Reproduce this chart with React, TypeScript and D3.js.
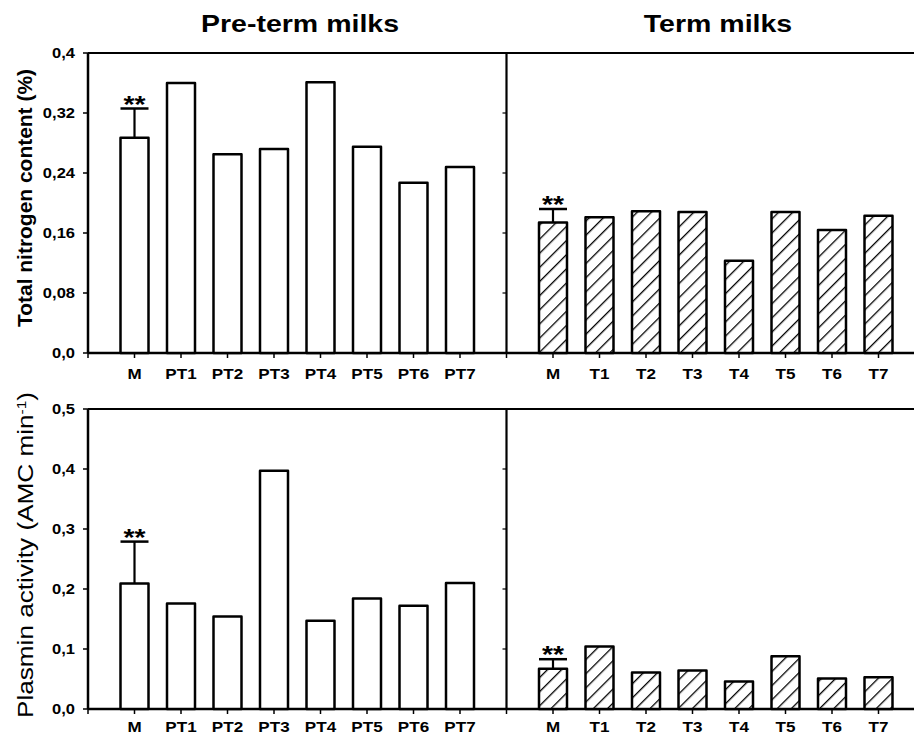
import React from "react";
import * as d3 from "d3";

const preCategories = ["M", "PT1", "PT2", "PT3", "PT4", "PT5", "PT6", "PT7"];
const termCategories = ["M", "T1", "T2", "T3", "T4", "T5", "T6", "T7"];

const nitrogenPre = [0.287, 0.36, 0.265, 0.272, 0.361, 0.275, 0.227, 0.248];
const nitrogenTerm = [0.174, 0.181, 0.189, 0.188, 0.123, 0.188, 0.164, 0.183];
const plasminPre = [0.209, 0.176, 0.154, 0.397, 0.147, 0.184, 0.172, 0.21];
const plasminTerm = [0.067, 0.104, 0.061, 0.064, 0.046, 0.088, 0.051, 0.053];

// error (SD) only on the mean bar "M"
const nitrogenPreErr = 0.039;
const nitrogenTermErr = 0.018;
const plasminPreErr = 0.07;
const plasminTermErr = 0.016;

const nitrogenTicks = [0, 0.08, 0.16, 0.24, 0.32, 0.4];
const nitrogenTickLabels = ["0,0", "0,08", "0,16", "0,24", "0,32", "0,4"];
const plasminTicks = [0, 0.1, 0.2, 0.3, 0.4, 0.5];
const plasminTickLabels = ["0,0", "0,1", "0,2", "0,3", "0,4", "0,5"];

const titles = ["Pre-term milks", "Term milks"];
const FONT = "Liberation Sans, Arial, Helvetica, sans-serif";

const W = 914;
const H = 735;
const X0 = 88;
const XDIV = 506.5;
const STEP = (XDIV - X0) / 9;
const BAR_W = 28;
const SX = 1.18; // horizontal stretch of the original figure's lettering

const xLeft = d3.scaleLinear().domain([0, 9]).range([X0, XDIV]);
const xRight = d3.scaleLinear().domain([0, 9]).range([XDIV, XDIV + 9 * STEP]);

function SText({ x, y, anchor, size, weight, children, sx = SX }: any) {
  return (
    <g transform={`translate(${x},${y}) scale(${sx},1)`}>
      <text x={0} y={0} textAnchor={anchor} fontFamily={FONT} fontWeight={weight} fontSize={size}>
        {children}
      </text>
    </g>
  );
}

function Bars({ values, cats, x, y, hatched, err, labelY }: any) {
  const cx0 = x(1);
  const errTop = y(values[0] + err);
  return (
    <g>
      {values.map((v: number, i: number) => {
        const cx = x(i + 1);
        return (
          <rect
            key={i}
            x={cx - BAR_W / 2}
            y={y(v)}
            width={BAR_W}
            height={y(0) - y(v)}
            fill={hatched ? "url(#hatch)" : "#fff"}
            stroke="#000"
            strokeWidth={2.5}
            strokeLinejoin="round"
          />
        );
      })}
      <line x1={cx0} x2={cx0} y1={y(values[0])} y2={errTop} stroke="#000" strokeWidth={2.2} />
      <line x1={cx0 - BAR_W / 2} x2={cx0 + BAR_W / 2} y1={errTop} y2={errTop} stroke="#000" strokeWidth={2.5} />
      <SText x={cx0} y={errTop + 4} anchor="middle" size={24} weight="bold">
        **
      </SText>
      {cats.map((c: string, i: number) => (
        <g key={c}>
          <line x1={x(i + 1)} x2={x(i + 1)} y1={y(0)} y2={y(0) + 5} stroke="#000" strokeWidth={1.5} />
          <SText x={x(i + 1)} y={labelY} anchor="middle" size={15.5} weight="bold" sx={1.1}>
            {c}
          </SText>
        </g>
      ))}
    </g>
  );
}

type PanelProps = {
  yTop: number;
  yBottom: number;
  max: number;
  ticks: number[];
  tickLabels: string[];
  pre: number[];
  term: number[];
  preErr: number;
  termErr: number;
  labelY: number;
};

function Panel(p: PanelProps) {
  const y = d3.scaleLinear().domain([0, p.max]).range([p.yBottom, p.yTop]);
  return (
    <g>
      <line x1={X0} x2={W} y1={p.yTop} y2={p.yTop} stroke="#000" strokeWidth={2.2} />
      <line x1={X0} x2={W} y1={p.yBottom} y2={p.yBottom} stroke="#000" strokeWidth={2.5} />
      <line x1={X0} x2={X0} y1={p.yTop} y2={p.yBottom} stroke="#000" strokeWidth={2.5} />
      <line x1={XDIV} x2={XDIV} y1={p.yTop} y2={p.yBottom} stroke="#000" strokeWidth={2.2} />
      {p.ticks.map((t, i) => (
        <g key={i}>
          <line x1={X0 - 5} x2={X0} y1={y(t)} y2={y(t)} stroke="#000" strokeWidth={1.5} />
          <line x1={XDIV - 4} x2={XDIV} y1={y(t)} y2={y(t)} stroke="#000" strokeWidth={1.2} />
          <SText x={75} y={y(t) + 5} anchor="end" size={14} weight="bold">
            {p.tickLabels[i]}
          </SText>
        </g>
      ))}
      <line x1={X0} x2={X0} y1={p.yBottom} y2={p.yBottom + 5} stroke="#000" strokeWidth={1.5} />
      <line x1={XDIV} x2={XDIV} y1={p.yBottom} y2={p.yBottom + 5} stroke="#000" strokeWidth={1.5} />
      <Bars values={p.pre} cats={preCategories} x={xLeft} y={y} hatched={false} err={p.preErr} labelY={p.labelY} />
      <Bars values={p.term} cats={termCategories} x={xRight} y={y} hatched={true} err={p.termErr} labelY={p.labelY} />
    </g>
  );
}

export default function App() {
  return (
    <svg
      width={W}
      height={H}
      viewBox={`0 0 ${W} ${H}`}
      style={{ position: "absolute", left: 0, top: 0, background: "#fff" }}
    >
      <defs>
        <pattern id="hatch" patternUnits="userSpaceOnUse" width={10} height={10} patternTransform="rotate(45)">
          <rect width={10} height={10} fill="#fff" />
          <line x1={0} y1={0} x2={0} y2={10} stroke="#000" strokeWidth={2.6} />
        </pattern>
      </defs>
      <rect width={W} height={H} fill="#fff" />
      <SText x={300} y={32} anchor="middle" size={23} weight="bold" sx={1.24}>
        {titles[0]}
      </SText>
      <SText x={718} y={32} anchor="middle" size={23} weight="bold" sx={1.24}>
        {titles[1]}
      </SText>
      <Panel
        yTop={53}
        yBottom={353}
        max={0.4}
        ticks={nitrogenTicks}
        tickLabels={nitrogenTickLabels}
        pre={nitrogenPre}
        term={nitrogenTerm}
        preErr={nitrogenPreErr}
        termErr={nitrogenTermErr}
        labelY={379}
      />
      <Panel
        yTop={409}
        yBottom={709}
        max={0.5}
        ticks={plasminTicks}
        tickLabels={plasminTickLabels}
        pre={plasminPre}
        term={plasminTerm}
        preErr={plasminPreErr}
        termErr={plasminTermErr}
        labelY={732}
      />
      <text
        transform="translate(32,198) rotate(-90)"
        textAnchor="middle"
        fontFamily={FONT}
        fontWeight="bold"
        fontSize={20}
        textLength={258}
        lengthAdjust="spacingAndGlyphs"
      >
        Total nitrogen content (%)
      </text>
      <text
        transform="translate(33,555) rotate(-90)"
        textAnchor="middle"
        fontFamily={FONT}
        fontSize={22}
        textLength={326}
        lengthAdjust="spacingAndGlyphs"
      >
        Plasmin activity (AMC min
        <tspan baselineShift="super" fontSize={13}>-1</tspan>
        <tspan>)</tspan>
      </text>
    </svg>
  );
}
